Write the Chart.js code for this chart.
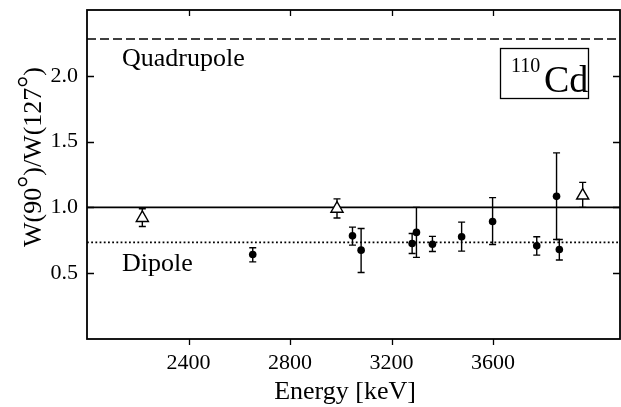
<!DOCTYPE html>
<html>
<head>
<meta charset="utf-8">
<script src="https://cdn.jsdelivr.net/npm/chart.js@4.4.1/dist/chart.umd.min.js"></script>
<style>
  html, body { margin: 0; padding: 0; background: #fff; }
  .canvas-container { width: 621px; height: 407px; }
</style>
</head>
<body>
<div class="canvas-container"><canvas id="chart" width="621" height="407"></canvas></div>
<script>
// open triangles
const triEnergy = [2218, 2985, 3953];
const triRatio = [0.92, 0.99, 1.09];
const triLow = [0.855, 0.92, 1.0];
const triHigh = [0.99, 1.065, 1.19];

// filled circles
const dotEnergy = [2653, 3046, 3080, 3281, 3298, 3361, 3476, 3598, 3772, 3850, 3861];
const dotRatio = [0.642, 0.784, 0.675, 0.726, 0.81, 0.72, 0.777, 0.893, 0.708, 1.084, 0.68];
const dotLow = [0.586, 0.713, 0.505, 0.65, 0.62, 0.665, 0.668, 0.718, 0.637, 0.756, 0.6];
const dotHigh = [0.693, 0.85, 0.84, 0.802, 1.0, 0.78, 0.888, 1.074, 0.777, 1.414, 0.756];

// reference levels
const quadrupoleLevel = 2.28;
const isotropicLevel = 1.0;
const dipoleLevel = 0.734;

const xTicks = [2400, 2800, 3200, 3600];
const yTicks = [0.5, 1.0, 1.5, 2.0];
const xRange = [2000, 4100];
const yRange = [0, 2.5];

const SERIF = "'Liberation Serif', 'Times New Roman', serif";

function toPoints(xs, ys) {
  return xs.map((x, i) => ({ x: x, y: ys[i] }));
}

function levelLine(v) {
  return [{ x: xRange[0], y: v }, { x: xRange[1], y: v }];
}

// no label overhang padding, the frame is placed by layout.padding only
function noPadding(axis) {
  axis.paddingTop = 0;
  axis.paddingBottom = 0;
  axis.paddingLeft = 0;
  axis.paddingRight = 0;
}

const errorBars = {
  id: "errorBars",
  beforeDatasetsDraw(chart) {
    const ctx = chart.ctx;
    const xs = chart.scales.x, ys = chart.scales.y;
    ctx.save();
    ctx.strokeStyle = "#000";
    ctx.lineWidth = 1.4;
    chart.data.datasets.forEach((ds) => {
      if (!ds.errLow) return;
      ds.data.forEach((p, i) => {
        const px = xs.getPixelForValue(p.x);
        const lo = ys.getPixelForValue(ds.errLow[i]);
        const hi = ys.getPixelForValue(ds.errHigh[i]);
        ctx.beginPath();
        ctx.moveTo(px, lo);
        ctx.lineTo(px, hi);
        ctx.moveTo(px - 3.5, lo);
        ctx.lineTo(px + 3.5, lo);
        ctx.moveTo(px - 3.5, hi);
        ctx.lineTo(px + 3.5, hi);
        ctx.stroke();
      });
    });
    ctx.restore();
  },
};

const frame = {
  id: "frame",
  afterDraw(chart) {
    const ctx = chart.ctx;
    const a = chart.chartArea;
    const xs = chart.scales.x, ys = chart.scales.y;
    ctx.save();
    ctx.strokeStyle = "#000";
    ctx.lineWidth = 1.8;
    ctx.strokeRect(a.left, a.top, a.right - a.left, a.bottom - a.top);

    ctx.lineWidth = 1.3;
    ctx.beginPath();
    xTicks.forEach((t) => {
      const px = Math.round(xs.getPixelForValue(t)) + 0.5;
      ctx.moveTo(px, a.bottom);
      ctx.lineTo(px, a.bottom + 6);
      ctx.moveTo(px, a.top);
      ctx.lineTo(px, a.top + 6);
    });
    yTicks.forEach((t) => {
      const py = Math.round(ys.getPixelForValue(t)) + 0.5;
      ctx.moveTo(a.left, py);
      ctx.lineTo(a.left + 7, py);
      ctx.moveTo(a.right, py);
      ctx.lineTo(a.right - 7, py);
    });
    ctx.stroke();

    // labels inside the plot
    ctx.fillStyle = "#000";
    ctx.textBaseline = "alphabetic";
    ctx.textAlign = "left";
    ctx.font = "26px " + SERIF;
    ctx.fillText("Quadrupole", a.left + 35, a.top + 56);
    ctx.fillText("Dipole", a.left + 35, a.top + 261);

    // isotope box
    ctx.lineWidth = 1.3;
    ctx.strokeRect(a.left + 413.5, a.top + 38.5, 88, 50);
    ctx.font = "20px " + SERIF;
    ctx.fillText("110", a.left + 424, a.top + 62);
    ctx.font = "38px " + SERIF;
    ctx.fillText("Cd", a.left + 457, a.top + 82);

    // axis titles
    ctx.font = "26px " + SERIF;
    ctx.textAlign = "center";
    ctx.fillText("Energy [keV]", 345, 399);

    ctx.translate(41, 157);
    ctx.rotate(-Math.PI / 2);
    const parts = [
      ["W(90", 26, 0],
      ["°", 30, -3],
      [")/W(127", 26, 0],
      ["°", 30, -3],
      [")", 26, 0],
    ];
    let total = 0;
    parts.forEach((p) => {
      ctx.font = p[1] + "px " + SERIF;
      total += ctx.measureText(p[0]).width;
    });
    let cx = -total / 2;
    ctx.textAlign = "left";
    parts.forEach((p) => {
      ctx.font = p[1] + "px " + SERIF;
      ctx.fillText(p[0], cx, p[2]);
      cx += ctx.measureText(p[0]).width;
    });
    ctx.restore();
  },
};

new Chart(document.getElementById("chart"), {
  type: "scatter",
  data: {
    datasets: [
      {
        type: "line",
        data: levelLine(quadrupoleLevel),
        borderColor: "#000",
        borderWidth: 1.6,
        borderDash: [9, 4],
        pointRadius: 0,
        order: 5,
      },
      {
        type: "line",
        data: levelLine(isotropicLevel),
        borderColor: "#000",
        borderWidth: 1.6,
        pointRadius: 0,
        order: 5,
      },
      {
        type: "line",
        data: levelLine(dipoleLevel),
        borderColor: "#000",
        borderWidth: 1.8,
        borderDash: [1.8, 2.4],
        pointRadius: 0,
        order: 5,
      },
      {
        data: toPoints(dotEnergy, dotRatio),
        errLow: dotLow,
        errHigh: dotHigh,
        pointStyle: "circle",
        pointRadius: 3.8,
        backgroundColor: "#000",
        borderColor: "#000",
        borderWidth: 0,
        order: 1,
      },
      {
        data: toPoints(triEnergy, triRatio),
        errLow: triLow,
        errHigh: triHigh,
        pointStyle: "triangle",
        pointRadius: 7,
        backgroundColor: "#fff",
        borderColor: "#000",
        borderWidth: 1.4,
        order: 1,
      },
    ],
  },
  options: {
    responsive: false,
    animation: false,
    layout: { autoPadding: false, padding: { left: 0, right: 1, top: 10, bottom: 0 } },
    plugins: {
      legend: { display: false },
      tooltip: { enabled: false },
    },
    scales: {
      x: {
        type: "linear",
        min: xRange[0],
        max: xRange[1],
        afterBuildTicks(axis) {
          axis.ticks = xTicks.map((v) => ({ value: v }));
        },
        afterFit(axis) {
          axis.height = 68;
          noPadding(axis);
        },
        grid: { display: false, drawTicks: false },
        border: { display: false },
        ticks: {
          color: "#000",
          padding: 11,
          maxRotation: 0,
          font: { family: SERIF, size: 22 },
          callback: (v) => String(v),
        },
      },
      y: {
        type: "linear",
        min: yRange[0],
        max: yRange[1],
        afterBuildTicks(axis) {
          axis.ticks = yTicks.map((v) => ({ value: v }));
        },
        afterFit(axis) {
          axis.width = 87;
          noPadding(axis);
        },
        grid: { display: false, drawTicks: false },
        border: { display: false },
        ticks: {
          color: "#000",
          padding: 9,
          font: { family: SERIF, size: 22 },
          callback: (v) => v.toFixed(1),
        },
      },
    },
  },
  plugins: [errorBars, frame],
});
</script>
</body>
</html>
